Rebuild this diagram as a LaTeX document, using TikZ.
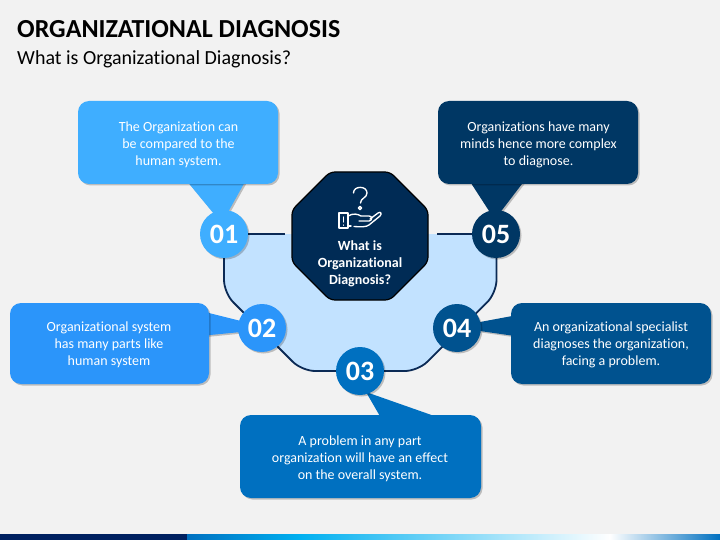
\documentclass[tikz,border=0pt]{standalone}
\usepackage{fontspec}
\setmainfont[Ligatures=NoCommon]{Carlito}
\usetikzlibrary{shadows,calc}
\definecolor{bg}{HTML}{F2F2F2}
\definecolor{cOne}{HTML}{3FAEFF}
\definecolor{cTwo}{HTML}{2B95FA}
\definecolor{cThree}{HTML}{0070C0}
\definecolor{cFour}{HTML}{00528F}
\definecolor{cFive}{HTML}{003764}
\definecolor{lightfill}{HTML}{C2E2FF}
\definecolor{navy}{HTML}{0B2A55}
\definecolor{octa}{HTML}{002B55}
\definecolor{footnavy}{HTML}{002060}
\definecolor{footcyan}{HTML}{00B0F0}
\tikzset{
  softshadow/.style={drop shadow={shadow xshift=1.5pt,shadow yshift=-1.5pt,fill=black,opacity=.22}},
  infobox/.style={rectangle,rounded corners=11pt,softshadow,inner sep=0pt},
  boxtext/.style={text=white,align=center,inner sep=0pt,font=\fontsize{14}{17}\selectfont},
  numdisc/.style={circle,minimum size=48pt,inner sep=0pt,text=white,softshadow,font=\fontsize{28}{28}\selectfont\bfseries},
  outline/.style={draw=navy,line width=1.8pt},
  iconline/.style={draw=white,line width=1.35pt,line cap=round,line join=round},
}
\begin{document}
\begin{tikzpicture}[x=1pt,y=-1pt]
\useasboundingbox (0,0) rectangle (720,540);
\fill[bg] (0,0) rectangle (720,540);
% footer band
\fill[white!90!gray] (0,533) rectangle (720,534);
\fill[footnavy] (0,534) rectangle (187,540);
\shade[left color=cThree,right color=footcyan] (187,534) rectangle (300,540);
\shade[left color=footcyan,right color=white] (299.5,534) rectangle (610,540);
\shade[left color=white,right color=cThree] (609.5,534) rectangle (720,540);
% titles
\node[anchor=west,inner sep=0pt,font=\fontsize{26}{26}\selectfont\bfseries] (title) at (17,29) {ORGANIZATIONAL DIAGNOSIS};
\node[anchor=west,inner sep=0pt,font=\fontsize{20}{20}\selectfont] (subtitle) at (17,59.5) {What is Organizational Diagnosis?};
% anchor coordinates
\coordinate (p1) at (224,234);
\coordinate (p2) at (262,328);
\coordinate (p3) at (360,371);
\coordinate (p4) at (457,328);
\coordinate (p5) at (496,234);
% light basin
\fill[lightfill,rounded corners=13pt] (224,234) -- (224,293) -- (302,371) -- (418,371) -- (496.5,293) -- (496.5,234) -- cycle;
\draw[outline,rounded corners=13pt] (224,234) -- (224,293) -- (302,371) -- (418,371) -- (496.5,293) -- (496.5,234);
\coordinate (lineL) at (285,234);
\coordinate (lineR) at (437,234);
\draw[outline] (p1) -- (lineL);
\draw[outline] (lineR) -- (p5);
% octagon
\path[fill=octa,draw=black,line width=1.2pt,rounded corners=5pt] (330,172) -- (390,172) -- (428,210) -- (428,262) -- (390,300) -- (330,300) -- (292,262) -- (292,210) -- cycle;
% icon
\draw[iconline] (353.5,193) .. controls (353.5,185.5) and (367,185.5) .. (367,193) .. controls (367,198) and (360.5,198) .. (360.5,203);
\draw[iconline] (360,208) circle (1.6);
\draw[iconline] (339,213) rectangle (348,228);
\draw[iconline] (343.5,217) -- (343.5,222);
\draw[iconline] (343.5,225) -- (343.5,225.2);
\draw[iconline] (348,216) .. controls (353,213) and (358,214) .. (361,216) -- (369,216) .. controls (373,216) and (372,221) .. (369,221) -- (359,221);
\draw[iconline] (370,219) -- (378,213) .. controls (381,211) and (382,214) .. (380,216) -- (369,225) .. controls (366,227) and (362,227) .. (354,226.5);
\draw[iconline] (349,226) -- (351,226);
\node[text=white,align=center,inner sep=0pt,font=\fontsize{14}{17}\selectfont\bfseries] (center) at (360,264) {What is\\Organizational\\Diagnosis?};
% pointers
\path[fill=cOne,softshadow] (186,180) -- (214,214) -- (227,214) -- (246,180) -- cycle;
\path[fill=cTwo,softshadow] (205,312) -- (241,321) -- (241,332) -- (205,335.5) -- cycle;
\path[fill=cThree,softshadow] (366,392) -- (440,418) -- (381,418) -- cycle;
\path[fill=cFour,softshadow] (515,315.5) -- (480,322) -- (480,331) -- (515,336) -- cycle;
\path[fill=cFive,softshadow] (469,180) -- (491,214) -- (499,214) -- (525,180) -- cycle;
% boxes
\node[infobox,fill=cOne,minimum width=200pt,minimum height=83pt] (b1) at (178,142.5) {};
\node[infobox,fill=cTwo,minimum width=199pt,minimum height=81pt] (b2) at (109.5,343.5) {};
\node[infobox,fill=cThree,minimum width=241pt,minimum height=83pt] (b3) at (360.5,456.5) {};
\node[infobox,fill=cFour,minimum width=200pt,minimum height=81pt] (b4) at (611,343.5) {};
\node[infobox,fill=cFive,minimum width=200pt,minimum height=83pt] (b5) at (538,142.5) {};
\node[boxtext] (t1) at (178.5,144.5) {The Organization can\\be compared to the\\human system.};
\node[boxtext] (t2) at (109,344.5) {Organizational system\\has many parts like\\human system};
\node[boxtext] (t3) at (360,458.5) {A problem in any part\\organization will have an effect\\on the overall system.};
\node[boxtext] (t4) at (611,344.5) {An organizational specialist\\diagnoses the organization,\\facing a problem.};
\node[boxtext] (t5) at (538.5,144.5) {Organizations have many\\minds hence more complex\\to diagnose.};
% discs
\node[numdisc,fill=cOne] (n1) at (p1) {01};
\node[numdisc,fill=cTwo] (n2) at (p2) {02};
\node[numdisc,fill=cThree] (n3) at (p3) {03};
\node[numdisc,fill=cFour] (n4) at (p4) {04};
\node[numdisc,fill=cFive] (n5) at (p5) {05};
\end{tikzpicture}
\end{document}
